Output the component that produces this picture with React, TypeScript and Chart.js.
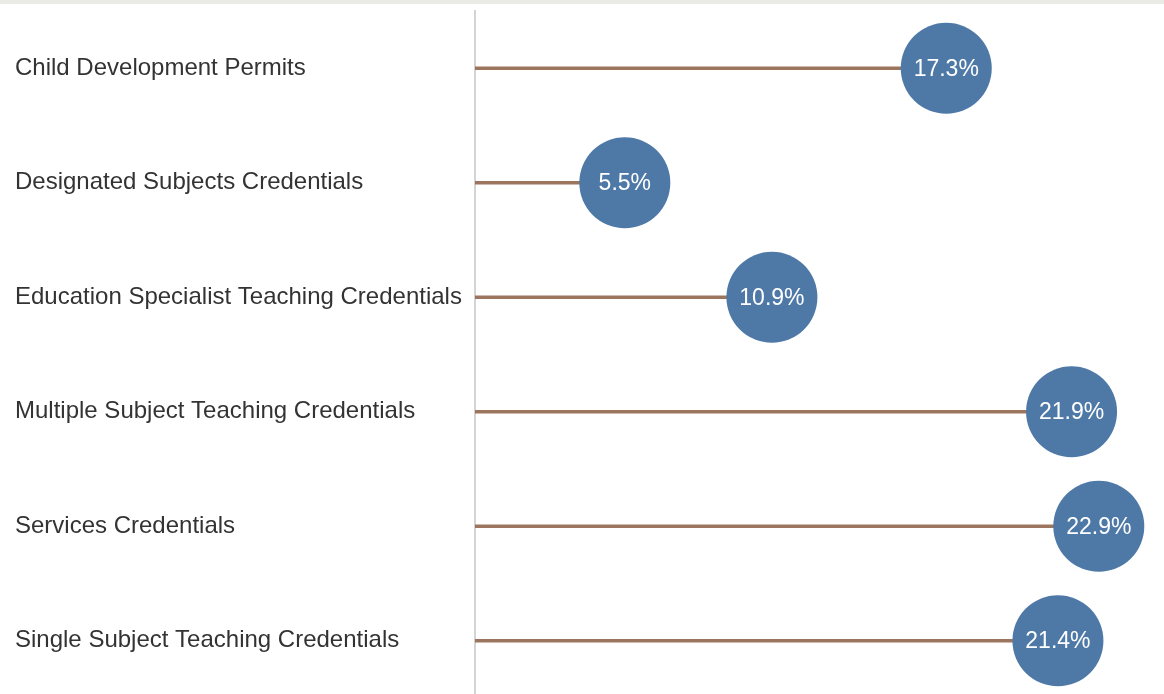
import React, { useEffect, useRef } from "react";
import { Chart, registerables } from "chart.js";

Chart.register(...registerables);

const categories = [
  "Child Development Permits",
  "Designated Subjects Credentials",
  "Education Specialist Teaching Credentials",
  "Multiple Subject Teaching Credentials",
  "Services Credentials",
  "Single Subject Teaching Credentials",
];

const shares = [17.3, 5.5, 10.9, 21.9, 22.9, 21.4];

const axisMin = 0;
const axisMax = 25;

const valueLabelPlugin = {
  id: "valueLabels",
  afterDatasetsDraw(chart: any) {
    const meta = chart.getDatasetMeta(0);
    const ctx = chart.ctx;
    ctx.save();
    ctx.fillStyle = "#ffffff";
    ctx.font = '23px "Liberation Sans", Arial, sans-serif';
    ctx.textAlign = "center";
    ctx.textBaseline = "middle";
    meta.data.forEach((pt: any, i: number) => {
      ctx.fillText(shares[i].toFixed(1) + "%", pt.x, pt.y + 1);
    });
    ctx.restore();
  },
};

export default function App() {
  const canvasRef = useRef<HTMLCanvasElement | null>(null);

  useEffect(() => {
    document.body.style.margin = "0";
    document.body.style.overflow = "hidden";
    const canvas = canvasRef.current;
    if (!canvas) return;
    const chart = new Chart(canvas, {
      type: "bar",
      data: {
        labels: categories,
        datasets: [
          {
            type: "line",
            data: shares,
            indexAxis: "y",
            showLine: false,
            pointRadius: 45.5,
            pointHoverRadius: 45.5,
            pointBackgroundColor: "#4e79a7",
            pointBorderWidth: 0,
            borderWidth: 0,
            clip: false,
            order: 1,
          } as any,
          {
            type: "bar",
            data: shares,
            backgroundColor: "#9c755f",
            barThickness: 3,
            order: 2,
          } as any,
        ],
      },
      options: {
        indexAxis: "y",
        animation: false,
        responsive: false,
        devicePixelRatio: 1,
        layout: { autoPadding: false, padding: { left: 15, right: 8, top: 11, bottom: 2 } },
        plugins: { legend: { display: false }, tooltip: { enabled: false } },
        scales: {
          x: { type: "linear", min: axisMin, max: axisMax, display: false },
          y: {
            type: "category",
            offset: true,
            grid: { display: false },
            border: { display: true, color: "#d4d4d4", width: 2 },
            ticks: {
              crossAlign: "far",
              color: "#333333",
              font: { family: '"Liberation Sans", Arial, sans-serif', size: 24 },
            },
            afterFit(scale: any) {
              scale.width = 460;
              scale.paddingTop = 0;
              scale.paddingBottom = 0;
            },
          },
        },
      } as any,
      plugins: [valueLabelPlugin],
    });
    return () => chart.destroy();
  }, []);

  return (
    <div style={{ position: "fixed", left: 0, top: 0, width: 1164, height: 700, background: "#ffffff" }}>
      <div style={{ position: "absolute", left: 0, top: 0, width: 1164, height: 4, background: "#ebebe6" }} />
      <canvas ref={canvasRef} width={1164} height={700} style={{ display: "block", width: 1164, height: 700 }} />
    </div>
  );
}
